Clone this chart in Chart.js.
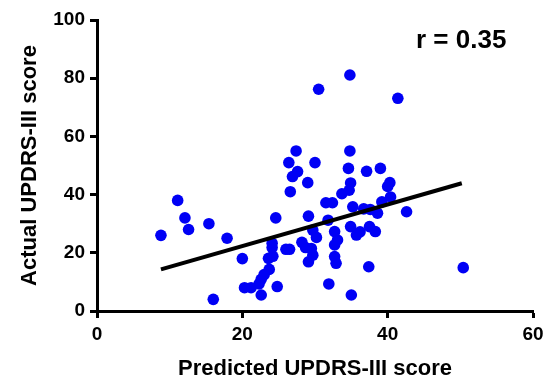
<!DOCTYPE html>
<html>
<head>
<meta charset="utf-8">
<script src="https://cdn.jsdelivr.net/npm/chart.js@4/dist/chart.umd.min.js"></script>
<style>
html,body{margin:0;padding:0;background:#fff;}
#c{display:block;}
</style>
</head>
<body>
<canvas id="c" width="551" height="382"></canvas>
<script>
// Predicted UPDRS-III score (x) and Actual UPDRS-III score (y)
const predicted = [8.8, 11.1, 12.1, 12.6, 15.4, 16.0, 17.9, 20.0, 20.3, 21.2, 22.3, 22.6, 22.6, 23.0, 23.7,
  23.6, 24.2, 24.1, 24.1, 24.6, 24.8, 26.0, 26.5, 26.6, 26.4, 26.9, 27.4, 27.6, 28.2, 28.7,
  29.0, 29.1, 29.1, 29.5, 29.7, 29.7, 30.0, 30.2, 30.5, 31.5, 32.4, 31.8, 31.9, 32.7, 33.1,
  32.7, 32.7, 32.9, 33.7, 34.7, 34.6, 34.9, 34.8, 34.8, 35.2, 34.9, 35.7, 35.0, 36.7, 37.6,
  36.2, 37.5, 38.3, 37.1, 39.0, 40.3, 40.0, 40.4, 39.2, 38.6, 42.6, 37.4, 41.4, 50.4];
const actual = [26, 38, 32, 28, 30, 4, 25, 18, 8, 8, 9.3, 5.5, 10.9, 12.5, 14.3,
  18.1, 18.8, 21.8, 23.3, 32, 8.4, 21.2, 21.2, 41, 51, 46.2, 55, 47.9, 23.6, 21.8,
  44.1, 32.6, 16.9, 21.5, 19.2, 27.8, 51, 25.3, 76.2, 37.2, 37.2, 31.2, 9.3, 27.3, 24.4,
  22.7, 18.7, 16.4, 40.3, 41.5, 49, 44, 55, 81.1, 35.8, 29, 26.1, 5.5, 35.1, 34.9,
  27.2, 29, 27.3, 48, 49, 44.1, 42.8, 39.2, 37.5, 33.6, 34.1, 15.2, 73.1, 14.9];
// Regression line end points
const fitX = [8.8, 50.2];
const fitY = [14.3, 43.9];
const xTicks = [0, 20, 40, 60];
const yTicks = [0, 20, 40, 60, 80, 100];
const rLabel = 'r = 0.35';
const xTitle = 'Predicted UPDRS-III score';
const yTitle = 'Actual UPDRS-III score';

const pts = predicted.map((x, i) => ({x: x, y: actual[i]}));
const fit = fitX.map((x, i) => ({x: x, y: fitY[i]}));

const rPlugin = {
  id: 'rLabel',
  afterDatasetsDraw(chart) {
    const ctx = chart.ctx;
    ctx.save();
    ctx.font = 'bold 26px "Liberation Sans", Arial, sans-serif';
    ctx.fillStyle = '#000';
    ctx.textAlign = 'left';
    ctx.textBaseline = 'middle';
    ctx.fillText(rLabel, 416, 41);
    ctx.restore();
  }
};

const tickFont = {family: '"Liberation Sans", Arial, sans-serif', size: 19, weight: 'bold'};
const titleFont = {family: '"Liberation Sans", Arial, sans-serif', size: 22, weight: 'bold'};

new Chart(document.getElementById('c'), {
  type: 'scatter',
  data: {
    datasets: [
      {
        data: pts,
        backgroundColor: 'rgb(0,0,245)',
        borderColor: 'rgb(0,0,245)',
        pointRadius: 5.8,
        pointHoverRadius: 5.8,
        borderWidth: 0,
        order: 2
      },
      {
        type: 'line',
        data: fit,
        borderColor: '#000',
        borderWidth: 4,
        pointRadius: 0,
        fill: false,
        order: 1
      }
    ]
  },
  options: {
    responsive: false,
    animation: false,
    devicePixelRatio: 1,
    layout: {padding: {left: 0, right: 18, top: 20, bottom: 0}},
    plugins: {legend: {display: false}, tooltip: {enabled: false}},
    scales: {
      x: {
        type: 'linear',
        min: 0, max: 60,
        afterBuildTicks(s) { s.ticks = xTicks.map(v => ({value: v})); },
        afterFit(s) { s.height = 71; },
        border: {display: true, color: '#000', width: 3},
        grid: {drawOnChartArea: false, drawTicks: true, tickLength: 7, tickWidth: 3, tickColor: '#000'},
        ticks: {color: '#000', font: tickFont, padding: 5, maxRotation: 0},
        title: {display: true, text: xTitle, color: '#000', font: titleFont, padding: {top: 0, bottom: 0}}
      },
      y: {
        type: 'linear',
        min: 0, max: 100,
        afterBuildTicks(s) { s.ticks = yTicks.map(v => ({value: v})); },
        afterFit(s) { s.width = 97; },
        border: {display: true, color: '#000', width: 3},
        grid: {drawOnChartArea: false, drawTicks: true, tickLength: 7, tickWidth: 3, tickColor: '#000'},
        ticks: {color: '#000', font: tickFont, padding: 5},
        title: {display: true, text: yTitle, color: '#000', font: titleFont, padding: {top: 17, bottom: 0}}
      }
    }
  },
  plugins: [rPlugin]
});
</script>
</body>
</html>
